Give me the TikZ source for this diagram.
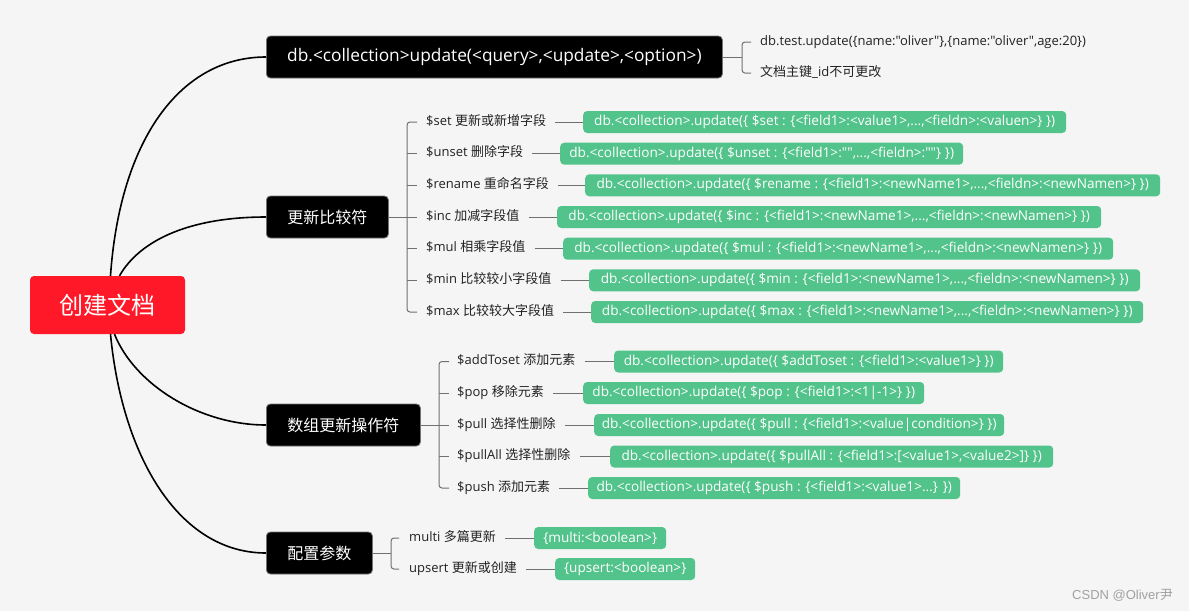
\documentclass[tikz,border=0pt]{standalone}
\usepackage{fontspec}
\setmainfont{Open Sans}
\newfontfamily\lat{Open Sans}
\newfontfamily\cjk{Noto Sans CJK SC}
\newfontfamily\wmfont{Liberation Sans}
\usetikzlibrary{calc}
\definecolor{bg}{HTML}{F5F5F5}
\definecolor{rootred}{HTML}{FF1828}
\definecolor{gbg}{HTML}{52C38A}
\definecolor{lnk}{HTML}{707070}
\definecolor{txt}{HTML}{222222}
\definecolor{wm}{HTML}{A0A0A0}
\begin{document}
\begin{tikzpicture}[x=1pt,y=-1pt,
  rootbox/.style={fill=rootred, rounded corners=4pt, text=white, minimum width=155pt, minimum height=58pt, inner sep=0pt, font=\fontsize{24}{24}\selectfont\cjk},
  topic/.style={fill=black, draw=black!55, line width=0.8pt, rounded corners=4pt, text=white, minimum height=42pt, inner sep=0pt, anchor=west, font=\fontsize{16}{16}\selectfont\lat},
  lbl/.style={anchor=west, inner sep=0pt, text=txt, text height=9.5pt, text depth=3pt, font=\fontsize{13}{13}\selectfont\lat},
  gbox/.style={fill=gbg, rounded corners=4pt, text=white, minimum height=22pt, inner sep=0pt, anchor=west, font=\fontsize{13.6}{14}\selectfont\lat},
  trunk/.style={draw=black, line width=1.6pt},
  twig/.style={draw=lnk, line width=1pt},
  brk/.style={draw=lnk, line width=1pt, rounded corners=3pt}
]
\fill[bg] (0,0) rectangle (1189,611);
\useasboundingbox (0,0) rectangle (1189,611);

% root and topics
\node[rootbox] (root) at (107.5,305) {创建文档};
\node[topic, minimum width=456pt, font=\fontsize{17.3}{17}\selectfont\lat] (t1) at (266,57) {db.<collection>update(<query>,<update>,<option>)};
\node[topic, minimum width=122pt] (t2) at (266,217) {\cjk 更新比较符};
\node[topic, minimum width=154pt] (t3) at (266,425) {\cjk 数组更新操作符};
\node[topic, minimum width=106pt] (t4) at (266,553) {\cjk 配置参数};

\draw[trunk] ([xshift=3pt]root.north) .. controls (120,140) and (180,57) .. (t1.west);
\draw[trunk] ([xshift=12pt]root.north) .. controls (140,240) and (190,217) .. (t2.west);
\draw[trunk] ([xshift=7pt]root.south) .. controls (135,385) and (200,425) .. (t3.west);
\draw[trunk] ([xshift=3pt]root.south) .. controls (122,455) and (178,553) .. (t4.west);

% branch 1
\coordinate (b1) at (742,57);
\node[lbl] (ex) at (760,42) {db.test.update(\{name:"oliver"\},\{name:"oliver",age:20\})};
\node[lbl] (pk) at (760,73) {{\cjk 文档主键}\_id{\cjk 不可更改}};
\draw[twig] (t1.east) -- (b1);
\draw[brk] ([xshift=-9pt]ex.west) -- (ex.west -| b1) -- (pk.west -| b1) -- ([xshift=-9pt]pk.west);

% branch 2
\coordinate (b2) at (407,217);
\node[lbl] (set) at (426,122) {\$set {\cjk 更新或新增字段}};
\node[lbl] (unset) at (426,153.7) {\$unset {\cjk 删除字段}};
\node[lbl] (rename) at (426,185.3) {\$rename {\cjk 重命名字段}};
\node[lbl] (inc) at (426,217) {\$inc {\cjk 加减字段值}};
\node[lbl] (mul) at (426,248.7) {\$mul {\cjk 相乘字段值}};
\node[lbl] (min) at (426,280.3) {\$min {\cjk 比较较小字段值}};
\node[lbl] (max) at (426,312) {\$max {\cjk 比较较大字段值}};

\node[gbox, minimum width=483pt] (gset) at (583,122) {db.<collection>.update(\{ \$set : \{<field1>:<value1>,...,<fieldn>:<valuen>\} \})};
\node[gbox, minimum width=403pt] (gunset) at (560,153.7) {db.<collection>.update(\{ \$unset : \{<field1>:"",...,<fieldn>:""\} \})};
\node[gbox, minimum width=575pt] (grename) at (585,185.3) {db.<collection>.update(\{ \$rename : \{<field1>:<newName1>,...,<fieldn>:<newNamen>\} \})};
\node[gbox, minimum width=544pt] (ginc) at (557,217) {db.<collection>.update(\{ \$inc : \{<field1>:<newName1>,...,<fieldn>:<newNamen>\} \})};
\node[gbox, minimum width=550pt] (gmul) at (563,248.7) {db.<collection>.update(\{ \$mul : \{<field1>:<newName1>,...,<fieldn>:<newNamen>\} \})};
\node[gbox, minimum width=551pt] (gmin) at (589,280.3) {db.<collection>.update(\{ \$min : \{<field1>:<newName1>,...,<fieldn>:<newNamen>\} \})};
\node[gbox, minimum width=552pt] (gmax) at (591,312) {db.<collection>.update(\{ \$max : \{<field1>:<newName1>,...,<fieldn>:<newNamen>\} \})};

\draw[twig] (t2.east) -- (b2);
\draw[brk] ([xshift=-9pt]set.west) -- (set.west -| b2) -- (max.west -| b2) -- ([xshift=-9pt]max.west);
\foreach \n in {unset,rename,inc,mul,min}
  \draw[twig] (\n.west -| b2) -- ([xshift=-9pt]\n.west);
\foreach \n in {set,unset,rename,inc,mul,min,max}
  \draw[twig] ([xshift=9pt]\n.east) -- (g\n.west);

% branch 3
\coordinate (b3) at (439,425);
\node[lbl] (add) at (457,361.5) {\$addToset {\cjk 添加元素}};
\node[lbl] (pop) at (457,393) {\$pop {\cjk 移除元素}};
\node[lbl] (pull) at (457,425) {\$pull {\cjk 选择性删除}};
\node[lbl] (pullall) at (457,456.5) {\$pullAll {\cjk 选择性删除}};
\node[lbl] (push) at (457,488) {\$push {\cjk 添加元素}};

\node[gbox, minimum width=389pt] (gadd) at (614,361.5) {db.<collection>.update(\{ \$addToset : \{<field1>:<value1>\} \})};
\node[gbox, minimum width=341pt] (gpop) at (583,393) {db.<collection>.update(\{ \$pop : \{<field1>:<1|-1>\} \})};
\node[gbox, minimum width=410pt] (gpull) at (594,425) {db.<collection>.update(\{ \$pull : \{<field1>:<value|condition>\} \})};
\node[gbox, minimum width=443pt] (gpullall) at (610,456.5) {db.<collection>.update(\{ \$pullAll : \{<field1>:[<value1>,<value2>]\} \})};
\node[gbox, minimum width=372pt] (gpush) at (588,488) {db.<collection>.update(\{ \$push : \{<field1>:<value1>...\} \})};

\draw[twig] (t3.east) -- (b3);
\draw[brk] ([xshift=-8pt]add.west) -- (add.west -| b3) -- (push.west -| b3) -- ([xshift=-8pt]push.west);
\foreach \n in {pop,pull,pullall}
  \draw[twig] (\n.west -| b3) -- ([xshift=-8pt]\n.west);
\foreach \n in {add,pop,pull,pullall,push}
  \draw[twig] ([xshift=9pt]\n.east) -- (g\n.west);

% branch 4
\coordinate (b4) at (391,553);
\node[lbl] (multi) at (409,538) {multi {\cjk 多篇更新}};
\node[lbl] (upsert) at (409,569) {upsert {\cjk 更新或创建}};
\node[gbox, minimum width=132pt] (gmulti) at (534,538) {\{multi:<boolean>\}};
\node[gbox, minimum width=140pt] (gupsert) at (555,569) {\{upsert:<boolean>\}};
\draw[twig] (t4.east) -- (b4);
\draw[brk] ([xshift=-10pt]multi.west) -- (multi.west -| b4) -- (upsert.west -| b4) -- ([xshift=-10pt]upsert.west);
\foreach \n in {multi,upsert}
  \draw[twig] ([xshift=9pt]\n.east) -- (g\n.west);

% watermark
\node[anchor=east, inner sep=0pt, text=wm, font=\fontsize{13}{13}\selectfont\wmfont] (wmk) at (1173,595) {CSDN @Oliver{\cjk 尹}};
\end{tikzpicture}
\end{document}
